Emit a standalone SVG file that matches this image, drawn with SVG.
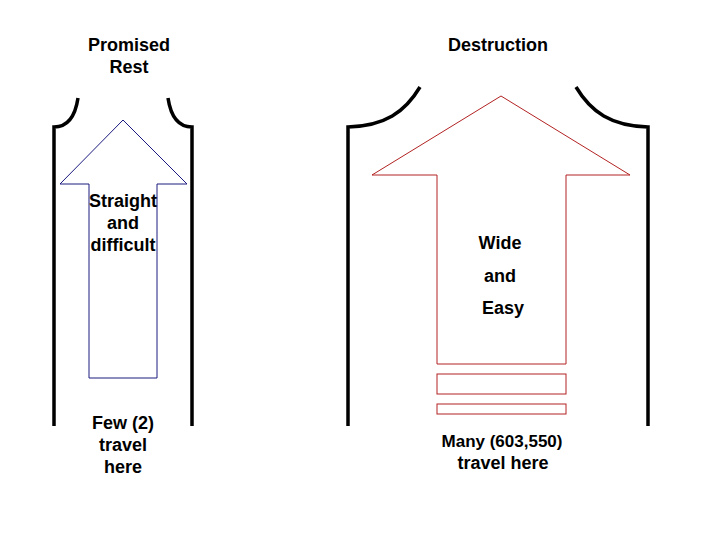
<svg xmlns="http://www.w3.org/2000/svg" width="720" height="540" viewBox="0 0 720 540">
<style>
.wall{fill:none;stroke:#000;stroke-width:3.5}
.t{font-family:"Liberation Sans",Arial,sans-serif;font-size:18px;font-weight:bold;fill:#000;text-anchor:middle}
</style>
<rect width="720" height="540" fill="#fff"/>
<g id="connectors"></g>
<g id="narrow-path">
<path class="wall" d="M78,98 C75,118 66,127 54,127 L54,426"/>
<path class="wall" d="M168,98 C171,118 180,127 192,127 L192,426"/>
<path d="M123,120 L187,184 L157,184 L157,378 L89,378 L89,184 L60,184 Z" fill="#fff" stroke="#1a1a80" stroke-width="1"/>
<text class="t" x="123" y="207">Straight</text>
<text class="t" x="123" y="229">and</text>
<text class="t" x="123" y="251">difficult</text>
</g>
<g id="wide-path">
<path class="wall" d="M420,87 C405,112 385,126 348,127 L348,426"/>
<path class="wall" d="M576,87 C591,112 611,126 648,127 L648,426"/>
<path d="M501,96 L630,175 L566,175 L566,364 L437,364 L437,175 L372,175 Z" fill="#fff" stroke="#b22222" stroke-width="1"/>
<rect x="437" y="374" width="129" height="20" fill="#fff" stroke="#b22222" stroke-width="1"/>
<rect x="437" y="404" width="129" height="10" fill="#fff" stroke="#b22222" stroke-width="1"/>
<text class="t" x="500" y="249">Wide</text>
<text class="t" x="500" y="282">and</text>
<text class="t" x="503" y="314">Easy</text>
</g>
<g id="labels">
<text class="t" x="129" y="51">Promised</text>
<text class="t" x="129" y="73">Rest</text>
<text class="t" x="498" y="51">Destruction</text>
<text class="t" x="123" y="429">Few (2)</text>
<text class="t" x="123" y="451">travel</text>
<text class="t" x="123" y="473">here</text>
<text class="t" x="502" y="447" style="font-size:17px">Many (603,550)</text>
<text class="t" x="503" y="469">travel here</text>
</g>
</svg>
